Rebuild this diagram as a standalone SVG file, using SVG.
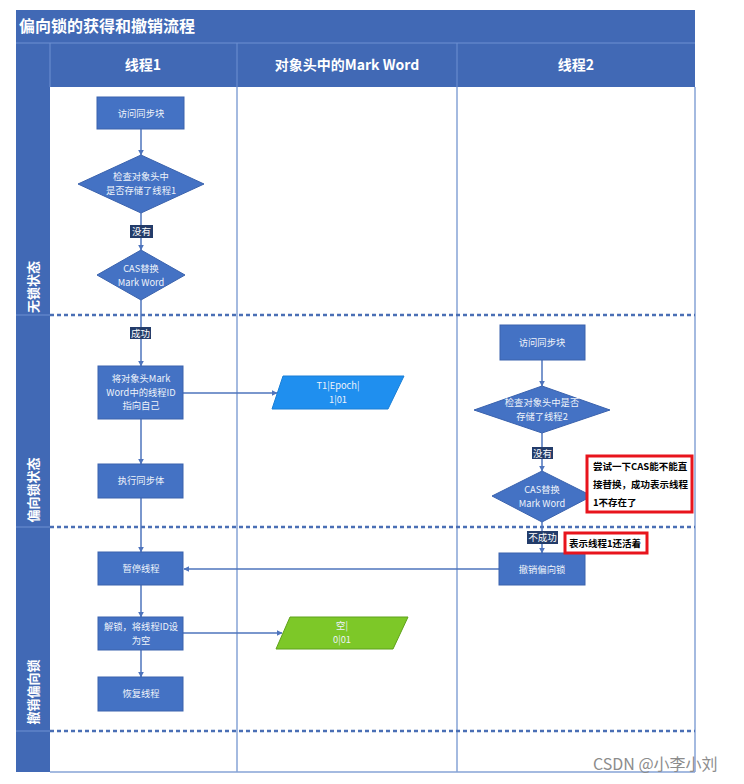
<svg xmlns="http://www.w3.org/2000/svg" width="744" height="784" viewBox="0 0 744 784">
<style>
text{font-family:"Noto Sans CJK SC","Liberation Sans",sans-serif;}
.hd{fill:#ffffff;font-weight:bold;font-size:14px;text-anchor:middle;}
.lane{fill:#ffffff;font-weight:bold;font-size:13px;text-anchor:middle;}
.nt{fill:#eef2fa;font-size:9.3px;text-anchor:middle;}
.node{fill:#4472c4;stroke:#3a62ad;stroke-width:1;}
.col{stroke:#86a3d6;stroke-width:1.5;fill:none;}
.dash{stroke:#4a6fb5;stroke-width:2.5;stroke-dasharray:4 3;fill:none;}
.conn{stroke:#4e74bd;stroke-width:1.5;fill:none;}
.lbl{fill:#233c6a;}
.lt{fill:#ffffff;font-size:9.5px;text-anchor:middle;}
.red{fill:#ffffff;stroke:#e8141c;stroke-width:3;}
.rt{fill:#000000;font-weight:bold;font-size:9.5px;}
</style>
<defs>
<marker id="ah" viewBox="0 0 10 10" refX="9" refY="5" markerWidth="6" markerHeight="6" markerUnits="userSpaceOnUse" orient="auto">
<path d="M0,0 L10,5 L0,10 z" fill="#4e74bd"/>
</marker>
</defs>
<rect x="0" y="0" width="744" height="784" fill="#ffffff"/>
<g id="frame">
<rect x="16" y="10" width="679" height="33" fill="#4169b5"/>
<text x="19" y="32" fill="#ffffff" font-weight="bold" font-size="16">偏向锁的获得和撤销流程</text>
<rect x="50" y="43" width="645" height="44" fill="#4169b5"/>
<rect x="16" y="43" width="34" height="729" fill="#4169b5"/>
<line x1="16" y1="43" x2="695" y2="43" stroke="#6f91d2" stroke-width="1"/>
<line x1="50" y1="43" x2="50" y2="87" stroke="#6f91d2" stroke-width="1"/>
<line x1="237" y1="43" x2="237" y2="87" stroke="#6f91d2" stroke-width="1"/>
<line x1="457" y1="43" x2="457" y2="87" stroke="#6f91d2" stroke-width="1"/>
<text class="hd" x="143" y="70">线程1</text>
<text class="hd" x="347" y="70">对象头中的Mark Word</text>
<text class="hd" x="576" y="70">线程2</text>
<line class="col" x1="237" y1="87" x2="237" y2="772"/>
<line class="col" x1="457" y1="87" x2="457" y2="772"/>
<line class="col" x1="695" y1="87" x2="695" y2="772"/>
<line class="col" x1="50" y1="772" x2="695" y2="772"/>
<line x1="16" y1="315" x2="50" y2="315" stroke="#6f91d2" stroke-width="1"/>
<line x1="16" y1="527" x2="50" y2="527" stroke="#6f91d2" stroke-width="1"/>
<line x1="16" y1="731" x2="50" y2="731" stroke="#6f91d2" stroke-width="1"/>
<line class="dash" x1="50" y1="315" x2="695" y2="315"/>
<line class="dash" x1="50" y1="527" x2="695" y2="527"/>
<line class="dash" x1="50" y1="731" x2="695" y2="731"/>
<text class="lane" transform="translate(38,287) rotate(-90)">无锁状态</text>
<text class="lane" transform="translate(38,490) rotate(-90)">偏向锁状态</text>
<text class="lane" transform="translate(38,692) rotate(-90)">撤销偏向锁</text>
</g>
<g id="connectors">
<line class="conn" x1="141" y1="129" x2="141" y2="155" marker-end="url(#ah)"/>
<line class="conn" x1="141" y1="213" x2="141" y2="250" marker-end="url(#ah)"/>
<line class="conn" x1="141" y1="300" x2="141" y2="366" marker-end="url(#ah)"/>
<line class="conn" x1="183" y1="393" x2="277" y2="393" marker-end="url(#ah)"/>
<line class="conn" x1="141" y1="419" x2="141" y2="464" marker-end="url(#ah)"/>
<line class="conn" x1="141" y1="498" x2="141" y2="552" marker-end="url(#ah)"/>
<line class="conn" x1="141" y1="585" x2="141" y2="617" marker-end="url(#ah)"/>
<line class="conn" x1="183" y1="633" x2="282" y2="633" marker-end="url(#ah)"/>
<line class="conn" x1="141" y1="650" x2="141" y2="677" marker-end="url(#ah)"/>
<line class="conn" x1="542" y1="360" x2="542" y2="386" marker-end="url(#ah)"/>
<line class="conn" x1="542" y1="433" x2="542" y2="471" marker-end="url(#ah)"/>
<line class="conn" x1="542" y1="522" x2="542" y2="553" marker-end="url(#ah)"/>
<line class="conn" x1="499" y1="569" x2="184" y2="569" marker-end="url(#ah)"/>
<rect class="lbl" x="130" y="225" width="23" height="13"/>
<text class="lt" x="141.5" y="235">没有</text>
<rect class="lbl" x="130" y="327" width="21" height="12"/>
<text class="lt" x="140.5" y="337">成功</text>
<rect class="lbl" x="532" y="447" width="21" height="12"/>
<text class="lt" x="542.5" y="457">没有</text>
<rect class="lbl" x="527" y="531" width="31" height="13"/>
<text class="lt" x="542.5" y="541">不成功</text>
</g>
<g id="t1-access"><rect class="node" x="97" y="97" width="87" height="32"/><text class="nt" x="141" y="117">访问同步块</text></g>
<g id="t1-check"><polygon class="node" points="141,155 204,184 141,213 78,184"/><text class="nt" x="141" y="180">检查对象头中</text><text class="nt" x="141" y="193.5">是否存储了线程1</text></g>
<g id="t1-cas"><polygon class="node" points="141,250 185,275 141,300 97,275"/><text class="nt" x="141" y="272">CAS替换</text><text class="nt" x="141" y="285.5">Mark Word</text></g>
<g id="t1-set"><rect class="node" x="98" y="366" width="85" height="53"/><text class="nt" x="141" y="382">将对象头Mark</text><text class="nt" x="141" y="395.5">Word中的线程ID</text><text class="nt" x="141" y="409">指向自己</text></g>
<g id="t1-exec"><rect class="node" x="98" y="464" width="85" height="34"/><text class="nt" x="141" y="484">执行同步体</text></g>
<g id="t1-pause"><rect class="node" x="98" y="552" width="85" height="33"/><text class="nt" x="141" y="572">暂停线程</text></g>
<g id="t1-unlock"><rect class="node" x="98" y="617" width="85" height="33"/><text class="nt" x="141" y="630">解锁，将线程ID设</text><text class="nt" x="141" y="643.5">为空</text></g>
<g id="t1-resume"><rect class="node" x="98" y="677" width="85" height="34"/><text class="nt" x="141" y="697">恢复线程</text></g>
<g id="mw-biased"><polygon points="283,376 404,376 388,409 272,409" fill="#1f8fef" stroke="#1a7fd6" stroke-width="1"/><text class="nt" x="338" y="389" fill="#d8ecff">T1|Epoch|</text><text class="nt" x="338" y="402.5" fill="#d8ecff">1|01</text></g>
<g id="mw-empty"><polygon points="290,617 408,617 393,649 276,649" fill="#7dc828" stroke="#5fa21a" stroke-width="1"/><text class="nt" x="342" y="629" fill="#f0fbe0">空|</text><text class="nt" x="342" y="642.5" fill="#f0fbe0">0|01</text></g>
<g id="t2-access"><rect class="node" x="500" y="325" width="85" height="35"/><text class="nt" x="542" y="346">访问同步块</text></g>
<g id="t2-check"><polygon class="node" points="542,386 610,410 542,433 474,410"/><text class="nt" x="542" y="406">检查对象头中是否</text><text class="nt" x="542" y="419.5">存储了线程2</text></g>
<g id="t2-cas"><polygon class="node" points="542,471 592,496 542,522 492,496"/><text class="nt" x="542" y="493">CAS替换</text><text class="nt" x="542" y="506.5">Mark Word</text></g>
<g id="t2-revoke"><rect class="node" x="499" y="553" width="86" height="32"/><text class="nt" x="542" y="573">撤销偏向锁</text></g>
<g id="note1"><rect class="red" x="587" y="456" width="105" height="56"/><text class="rt" x="593" y="470">尝试一下CAS能不能直</text><text class="rt" x="593" y="488">接替换，成功表示线程</text><text class="rt" x="593" y="506">1不存在了</text></g>
<g id="note2"><rect class="red" x="565" y="533" width="82" height="20"/><text class="rt" x="569" y="547">表示线程1还活着</text></g>
<text x="593" y="770" fill="#8c8c8c" font-size="16" font-family="Liberation Sans, Noto Sans CJK SC, sans-serif">CSDN @小李小刘</text>
</svg>
